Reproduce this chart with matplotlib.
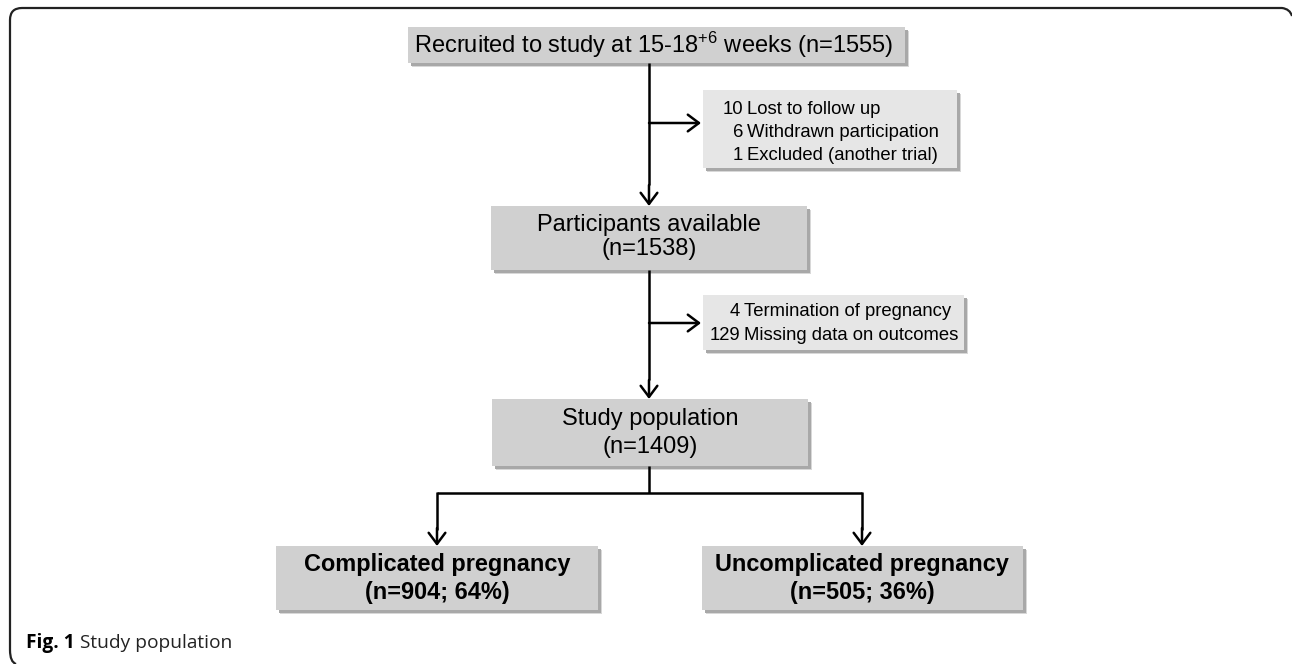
import matplotlib
matplotlib.use('Agg')
import matplotlib.pyplot as plt
from matplotlib.patches import Rectangle
from matplotlib.path import Path
from matplotlib.patches import PathPatch

plt.rcParams['mathtext.fontset'] = 'custom'
plt.rcParams['mathtext.rm'] = 'Liberation Sans'
plt.rcParams['mathtext.it'] = 'Liberation Sans'

# flow data
recruited_n = 1555
excl1_counts = [10, 6, 1]
excl1_reasons = ["Lost to follow up", "Withdrawn participation", "Excluded (another trial)"]
available_n = 1538
excl2_counts = [4, 129]
excl2_reasons = ["Termination of pregnancy", "Missing data on outcomes"]
study_n = 1409
outcome_labels = ["Complicated pregnancy", "Uncomplicated pregnancy"]
outcome_n = [904, 505]
outcome_pct = [64, 36]

FONT = 'Liberation Sans'
LW = 1.8
MAIN_FILL = '#d0d0d0'
SIDE_FILL = '#e6e6e6'

fig = plt.figure(figsize=(12.92, 6.64), dpi=100)
ax = fig.add_axes([0, 0, 1, 1])
ax.set_xlim(0, 1292)
ax.set_ylim(664, 0)
ax.axis('off')


def box(x0, y0, x1, y1, fill):
    # soft shadow to the lower right
    ax.add_patch(Rectangle((x0 + 4, y0 + 4), x1 - x0, y1 - y0, facecolor='#d8d8d8',
                           edgecolor='none', zorder=1))
    ax.add_patch(Rectangle((x0 + 2.5, y0 + 2.5), x1 - x0, y1 - y0, facecolor='#a8a8a8',
                           edgecolor='none', zorder=1))
    ax.add_patch(Rectangle((x0, y0), x1 - x0, y1 - y0, facecolor=fill,
                           edgecolor='none', zorder=2))


def line(xs, ys):
    ax.plot(xs, ys, color='black', lw=LW, solid_capstyle='butt',
            solid_joinstyle='miter', zorder=3)


def arrow(x0, y0, x1, y1):
    ax.annotate('', xy=(x1, y1), xytext=(x0, y0),
                arrowprops=dict(arrowstyle='->, head_length=0.4, head_width=0.3',
                                lw=LW, color='black', mutation_scale=20,
                                shrinkA=0, shrinkB=0),
                zorder=3)


# outer frame (top and left edges with rounded corners)
verts = [(1292, 16), (1290, 9), (1282, 8), (22, 8), (10, 8), (10, 20),
         (10, 650), (10, 662), (16, 664)]
codes = [Path.MOVETO, Path.CURVE3, Path.CURVE3, Path.LINETO, Path.CURVE3, Path.CURVE3,
         Path.LINETO, Path.CURVE3, Path.CURVE3]
ax.add_patch(PathPatch(Path(verts, codes), facecolor='none', edgecolor='#222222', lw=1.6))

# recruited box
box(408, 27, 905, 63, MAIN_FILL)
ax.text(654, 45, f"Recruited to study at 15-18${{}}^{{+6}}$ weeks (n={recruited_n})",
        ha='center', va='center', fontsize=17, family=FONT, zorder=4)

# main vertical line and first exclusion
line([649, 649], [63, 185])
arrow(649, 185, 649, 206)
arrow(649, 123, 701, 123)
box(703, 90, 957, 168, SIDE_FILL)
for i, (n, r) in enumerate(zip(excl1_counts, excl1_reasons)):
    y = 110 + i * 22.5
    ax.text(743, y, str(n), ha='right', va='center', fontsize=13.3, family=FONT, zorder=4)
    ax.text(747, y, r, ha='left', va='center', fontsize=13.3, family=FONT, zorder=4)

# participants available
box(491, 206, 807, 270, MAIN_FILL)
ax.text(649, 225, "Participants available", ha='center', va='center',
        fontsize=17, family=FONT, zorder=4)
ax.text(649, 249, f"(n={available_n})", ha='center', va='center',
        fontsize=17, family=FONT, zorder=4)

# second exclusion
line([649, 649], [270, 380])
arrow(649, 380, 649, 399)
arrow(649, 323, 701, 323)
box(703, 295, 964, 350, SIDE_FILL)
for i, (n, r) in enumerate(zip(excl2_counts, excl2_reasons)):
    y = 312 + i * 23
    ax.text(740, y, str(n), ha='right', va='center', fontsize=13.3, family=FONT, zorder=4)
    ax.text(744, y, r, ha='left', va='center', fontsize=13.3, family=FONT, zorder=4)

# study population
box(492, 399, 808, 466, MAIN_FILL)
ax.text(650, 419, "Study population", ha='center', va='center',
        fontsize=17, family=FONT, zorder=4)
ax.text(650, 447, f"(n={study_n})", ha='center', va='center',
        fontsize=17, family=FONT, zorder=4)

# split into outcome groups
line([649, 649], [466, 493])
centers = [437, 862]
line([centers[0], centers[1]], [493, 493])
bottom_boxes = [(276, 598), (702, 1023)]
for cx, (x0, x1), lab, n, p in zip(centers, bottom_boxes, outcome_labels,
                                    outcome_n, outcome_pct):
    line([cx, cx], [492, 530])
    arrow(cx, 528, cx, 546)
    box(x0, 546, x1, 610, MAIN_FILL)
    ax.text(cx, 565, lab, ha='center', va='center', fontsize=16.9,
            fontweight='bold', family=FONT, zorder=4)
    ax.text(cx, 592, f"(n={n}; {p}%)", ha='center', va='center', fontsize=16.9,
            fontweight='bold', family=FONT, zorder=4)

# caption
cap = ax.text(26, 643, "Fig. 1", ha='left', va='center', fontsize=13.8,
              fontweight='bold', family='Open Sans')
ax.annotate(" Study population", xy=(1, 0.5), xycoords=cap, ha='left', va='center',
            fontsize=13.8, family='Open Sans', color='#222222')

fig.savefig('out.png', dpi=100)
